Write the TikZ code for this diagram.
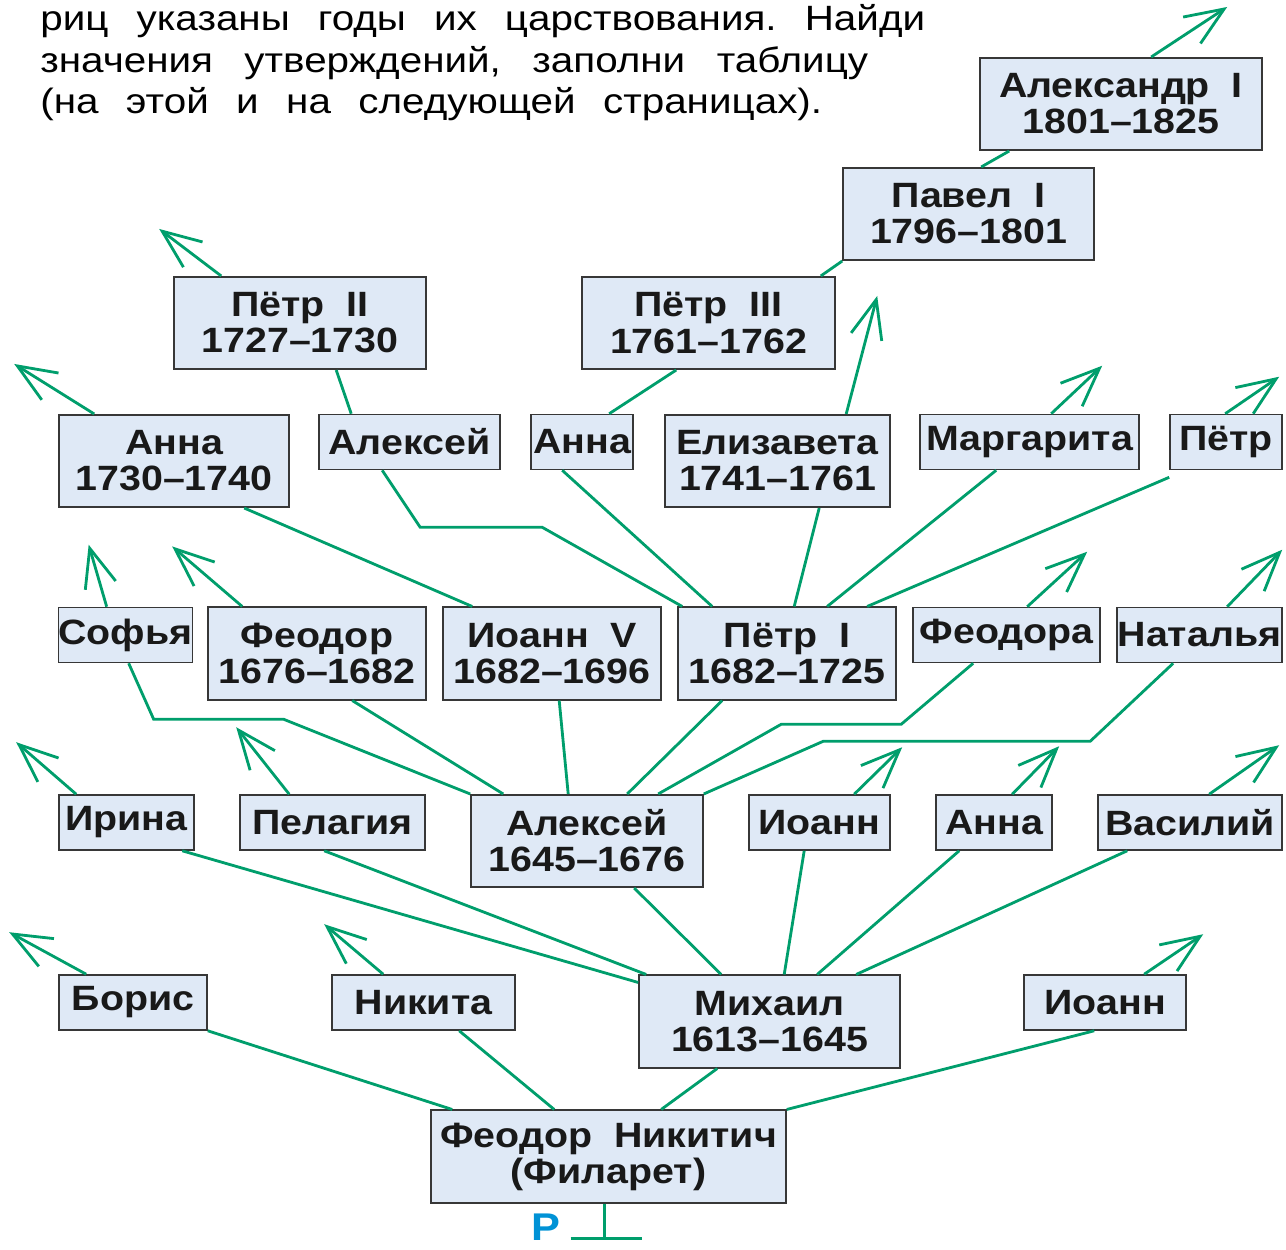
\documentclass[tikz,border=0pt]{standalone}
\usepackage{fontspec}
\setmainfont{Liberation Sans}
\newfontfamily\widefont[Ligatures=TeX, FakeStretch=1.12]{Liberation Sans}
\newfontfamily\taskfont[Ligatures=TeX, FakeStretch=1.15]{Liberation Sans}
\usetikzlibrary{arrows.meta,calc}
\frenchspacing

\definecolor{kingreen}{RGB}{0,158,108}
\definecolor{boxfill}{RGB}{223,233,246}
\definecolor{boxline}{RGB}{55,55,55}
\definecolor{markblue}{RGB}{0,146,214}

\tikzset{
  person/.style={draw=boxline, fill=boxfill, line width=0.9pt, align=center,
    inner sep=0pt, text=black!90, font=\widefont\fontsize{20}{20.5}\selectfont\bfseries},
  single/.style={minimum height=1.1cm},
  double/.style={minimum height=1.85cm},
  wd/.style={minimum width=#1*0.02cm},
  kin/.style={draw=kingreen, line width=1.6pt},
  heir/.style={kin, -{Straight Barb[length=22pt,width=18pt]}},
}

\begin{document}
\begin{tikzpicture}[x=0.02cm, y=-0.02cm]
  \useasboundingbox (0,0) rectangle (1286,1250);

  % Task text
  \node[anchor=base west, inner sep=0pt, align=left,
    font=\taskfont\fontsize{20}{23.9}\selectfont] (task) at (40,114)
    {\makebox[17.7cm][s]{риц указаны годы их царствования. Найди}\\
     \makebox[16.56cm][s]{значения утверждений, заполни таблицу}\\
     \makebox[15.64cm][s]{(на этой и на следующей страницах).}};

  % Boxes
  \node[person, double, wd=282] (alex1)    at (1121,104)   {Александр\ \ I\\1801--1825};
  \node[person, double, wd=251] (pavel)    at (968.5,214)  {Павел\ \ I\\1796--1801};
  \node[person, double, wd=252] (petr2)    at (300,323)    {Пётр\ \ II\\1727--1730};
  \node[person, double, wd=253] (petr3)    at (708.5,323)  {Пётр\ \ III\\1761--1762};
  \node[person, double, wd=230] (anna2)    at (174,461)    {Анна\\1730--1740};
  \node[person, single, wd=181] (aleksei2) at (409.5,442)  {Алексей};
  \node[person, single, wd=102] (anna3)    at (582,442)    {Анна};
  \node[person, double, wd=225] (eliz)     at (777.5,461)  {Елизавета\\1741--1761};
  \node[person, single, wd=219] (marg)     at (1029.5,442) {Маргарита};
  \node[person, single, wd=112] (petr4)    at (1226,442)   {Пётр};
  \node[person, single, wd=133] (sofia)    at (125.5,635)  {Софья};
  \node[person, double, wd=218] (feodor2)  at (317,653.5)  {Феодор\\1676--1682};
  \node[person, double, wd=218] (ioann5)   at (552,653.5)  {Иоанн\ \ V\\1682--1696};
  \node[person, double, wd=218] (petr1)    at (787,653.5)  {Пётр\ \ I\\1682--1725};
  \node[person, single, wd=187] (feodora)  at (1006.5,635) {Феодора};
  \node[person, single, wd=165] (natalia)  at (1199.5,635) {Наталья};
  \node[person, single, wd=135] (irina)    at (126.5,822.5) {Ирина};
  \node[person, single, wd=185] (pelagia)  at (332.5,822.5) {Пелагия};
  \node[person, double, wd=232] (aleksei1) at (587,841)    {Алексей\\1645--1676};
  \node[person, single, wd=141] (ioann2)   at (819.5,822.5) {Иоанн};
  \node[person, single, wd=116] (anna1)    at (994,822.5)  {Анна};
  \node[person, single, wd=184] (vasily)   at (1190,822.5) {Василий};
  \node[person, single, wd=148] (boris)    at (133,1002.5) {Борис};
  \node[person, single, wd=183] (nikita)   at (423.5,1002.5) {Никита};
  \node[person, double, wd=261] (mikhail)  at (769.5,1021.5) {Михаил\\1613--1645};
  \node[person, single, wd=162] (ioann1)   at (1105,1002.5) {Иоанн};
  \node[person, double, wd=355] (filaret)  at (608.5,1156.5) {Феодор\ \ Никитич\\(Филарет)};

  % Root mark
  \coordinate (root) at ([shift={(-4,35)}]filaret.south);
  \draw[kin] ([xshift=-4*0.02cm]filaret.south) -- (root);
  \draw[kin, line width=2.2pt] ([shift={(-34,0)}]root) -- ([shift={(37,0)}]root);
  \node[text=markblue, font=\widefont\fontsize{22}{22}\selectfont\bfseries, inner sep=0pt]
    (mark) at (546,1227) {Р};

  % To Filaret
  \draw[kin] (boris.south east) -- ([shift={(22,0)}]filaret.north west);
  \draw[kin] ([shift={(128,0)}]nikita.south west) -- ([shift={(124,0)}]filaret.north west);
  \draw[kin] ([shift={(79,0)}]mikhail.south west) -- ([shift={(231,0)}]filaret.north west);
  \draw[kin] ([shift={(71,0)}]ioann1.south west) -- (filaret.north east);

  % To Mikhail
  \draw[kin] ([shift={(124,0)}]irina.south west) -- ([shift={(0,8)}]mikhail.north west);
  \draw[kin] ([shift={(85,0)}]pelagia.south west) -- ([shift={(8,0)}]mikhail.north west);
  \draw[kin] ([shift={(164,0)}]aleksei1.south west) -- ([shift={(83,0)}]mikhail.north west);
  \draw[kin] ([shift={(56,0)}]ioann2.south west) -- ([shift={(146,0)}]mikhail.north west);
  \draw[kin] ([shift={(24,0)}]anna1.south west) -- ([shift={(179,0)}]mikhail.north west);
  \draw[kin] ([shift={(30,0)}]vasily.south west) -- ([shift={(218,0)}]mikhail.north west);

  % To Aleksei Mikhailovich
  \draw[kin] ([shift={(71,0)}]sofia.south west) -- ++(25,56) -- ++(130,0) -- (aleksei1.north west);
  \draw[kin] ([shift={(145,0)}]feodor2.south west) -- ([shift={(33,0)}]aleksei1.north west);
  \draw[kin] ([shift={(117,0)}]ioann5.south west) -- ([shift={(98,0)}]aleksei1.north west);
  \draw[kin] ([shift={(45,0)}]petr1.south west) -- ([shift={(157,0)}]aleksei1.north west);
  \draw[kin] ([shift={(61,0)}]feodora.south west) -- ++(-72,61) -- ++(-120,0)
    -- ([shift={(188,0)}]aleksei1.north west);
  \draw[kin] ([shift={(57,0)}]natalia.south west) -- ++(-83,78) -- ++(-267,0)
    -- (aleksei1.north east);

  % To Ioann V and Petr I
  \draw[kin] ([shift={(186,0)}]anna2.south west) -- ([shift={(30,0)}]ioann5.north west);
  \draw[kin] ([shift={(64,0)}]aleksei2.south west) -- ++(38,57) -- ++(122,0)
    -- ([shift={(5,0)}]petr1.north west);
  \draw[kin] ([shift={(32,0)}]anna3.south west) -- ([shift={(35,0)}]petr1.north west);
  \draw[kin] ([shift={(155,0)}]eliz.south west) -- ([shift={(117,0)}]petr1.north west);
  \draw[kin] ([shift={(77,0)}]marg.south west) -- ([shift={(150,0)}]petr1.north west);
  \draw[kin] ([shift={(0,7)}]petr4.south west) -- ([shift={(190,0)}]petr1.north west);

  % Upper line
  \draw[kin] ([shift={(33,0)}]aleksei2.north west) -- ([shift={(163,0)}]petr2.south west);
  \draw[kin] ([shift={(79,0)}]anna3.north west) -- ([shift={(95,0)}]petr3.south west);
  \draw[kin] ([shift={(-15,0)}]petr3.north east) -- (pavel.south west);
  \draw[kin] ([shift={(139,0)}]pavel.north west) -- ([shift={(30,0)}]alex1.south west);

  % Branches going on
  \draw[heir] ([shift={(172,0)}]alex1.north west) -- ++(76,-50);
  \draw[heir] ([shift={(48,0)}]petr2.north west) -- ++(-62,-47);
  \draw[heir] ([shift={(36,0)}]anna2.north west) -- ++(-80,-50);
  \draw[heir] ([shift={(182,0)}]eliz.north west) -- ++(31,-118);
  \draw[heir] ([shift={(132,0)}]marg.north west) -- ++(51,-48);
  \draw[heir] ([shift={(56,0)}]petr4.north west) -- ++(54,-37);
  \draw[heir] ([shift={(49,0)}]sofia.north west) -- ++(-18,-62);
  \draw[heir] ([shift={(35,0)}]feodor2.north west) -- ++(-70,-60);
  \draw[heir] ([shift={(115,0)}]feodora.north west) -- ++(60,-55);
  \draw[heir] ([shift={(111,0)}]natalia.north west) -- ++(55,-57);
  \draw[heir] ([shift={(18,0)}]irina.north west) -- ++(-60,-52);
  \draw[heir] ([shift={(50,0)}]pelagia.north west) -- ++(-53,-67);
  \draw[heir] ([shift={(106,0)}]ioann2.north west) -- ++(48,-47);
  \draw[heir] ([shift={(77,0)}]anna1.north west) -- ++(47,-48);
  \draw[heir] ([shift={(112,0)}]vasily.north west) -- ++(70,-49);
  \draw[heir] ([shift={(28,0)}]boris.north west) -- ++(-77,-42);
  \draw[heir] ([shift={(52,0)}]nikita.north west) -- ++(-59,-50);
  \draw[heir] ([shift={(121,0)}]ioann1.north west) -- ++(59,-40);
\end{tikzpicture}
\end{document}
